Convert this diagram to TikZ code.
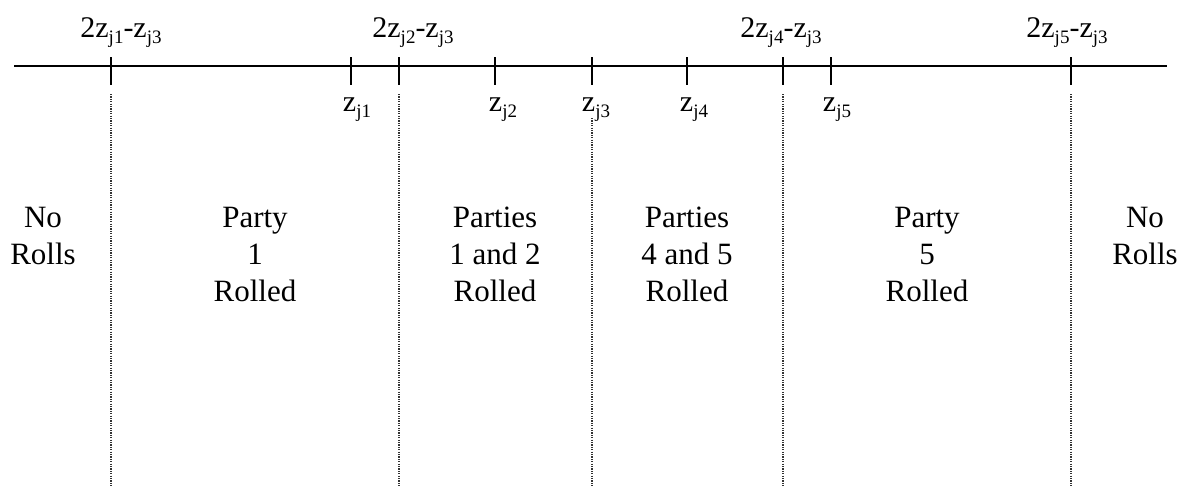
\documentclass[tikz,border=0pt]{standalone}
\usepackage{fontspec}
\setmainfont{Liberation Serif}
\newcommand\zsub[1]{\raisebox{-0.2em}{\fontsize{19}{19}\selectfont #1}}
\tikzset{
  axisline/.style={line width=1.6pt},
  tick/.style={line width=1.8pt},
  guide/.style={line width=1.2pt, black!80, dash pattern=on 1.2pt off 1.2pt},
  region/.style={align=center, font=\fontsize{31}{37}\selectfont, inner sep=0pt},
  toplab/.style={font=\fontsize{30}{30}\selectfont, inner sep=0pt, anchor=base},
  botlab/.style={font=\fontsize{30}{30}\selectfont, inner sep=0pt, anchor=base},
}
\begin{document}
\begin{tikzpicture}[x=1pt,y=-1pt]
\useasboundingbox (0,0) rectangle (1181,485);
% axis
\coordinate (L) at (14,66);
\coordinate (R) at (1167,66);
\draw[axisline] (L) -- (R);
% tick positions
\foreach \n/\x in {a/111, z1/351, b/399, z2/495, z3/592, z4/687, c/783, z5/831, d/1071}{
  \coordinate (t\n) at (\x,66);
  \draw[tick] (\x,57) -- (\x,85);
}
% dotted guides
\foreach \n in {a,b,c,d}{
  \draw[guide] ([yshift=-28pt]t\n) -- ([yshift=-420pt]t\n);
}
\draw[guide] ([yshift=-52pt]tz3) -- ([yshift=-420pt]tz3);
% top labels
\node[toplab] (la) at (121,37) {2z\zsub{j1}-z\zsub{j3}};
\node[toplab] (lb) at (413,37) {2z\zsub{j2}-z\zsub{j3}};
\node[toplab] (lc) at (781,37) {2z\zsub{j4}-z\zsub{j3}};
\node[toplab] (ld) at (1067,37) {2z\zsub{j5}-z\zsub{j3}};
% bottom labels
\node[botlab] (l1) at (357,111) {z\zsub{j1}};
\node[botlab] (l2) at (503,111) {z\zsub{j2}};
\node[botlab] (l3) at (596,111) {z\zsub{j3}};
\node[botlab] (l4) at (694,111) {z\zsub{j4}};
\node[botlab] (l5) at (837,111) {z\zsub{j5}};
% regions
\node[region] (r0) at (43,236) {No\\Rolls};
\node[region] (r1) at (255,254) {Party\\1\\Rolled};
\node[region] (r2) at (495,254) {Parties\\1 and 2\\Rolled};
\node[region] (r3) at (687,254) {Parties\\4 and 5\\Rolled};
\node[region] (r4) at (927,254) {Party\\5\\Rolled};
\node[region] (r5) at (1145,236) {No\\Rolls};
\end{tikzpicture}
\end{document}
